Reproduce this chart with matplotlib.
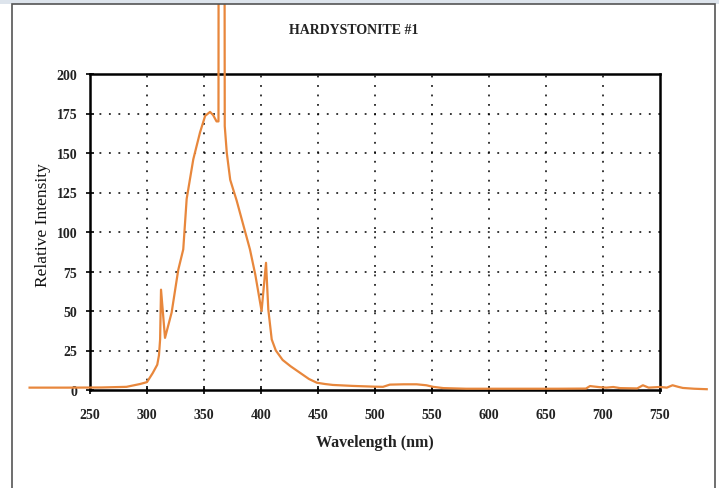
import matplotlib
matplotlib.use("Agg")
import matplotlib.pyplot as plt
from matplotlib.patches import Rectangle

# ---- data ----
wavelength = [197, 230, 260, 282, 294, 300, 305, 309, 310.5, 311.5, 312.3, 315.8,
              321.6, 327.4, 331.8, 334.8, 340.6, 346.5, 351, 355.3, 358, 361, 362.7,
              363.2, 367.4, 368.2, 370, 373, 378.6, 390.3, 395, 400.5, 404.4, 406.4,
              409.4, 413, 419, 426, 434, 442, 449, 456, 463, 480, 500, 507, 513, 525,
              536.5, 545, 551, 560, 580, 620, 660, 685, 688.6, 692, 697, 703, 709, 715,
              730, 735, 740, 750, 756, 761, 766, 770, 780, 791]
intensity = [1.5, 1.5, 1.6, 2, 3.8, 5, 10.7, 16, 22, 32, 63.5, 33,
             49, 76, 89, 121, 146, 163, 173.5, 176, 174, 170, 170,
             700, 700, 167, 150, 133, 120, 89, 73, 50, 80.5, 51,
             32, 25, 19, 15, 11, 7, 4.6, 3.8, 3.2, 2.6, 2.1, 2, 3.4, 3.6,
             3.6, 3, 2, 1.2, 0.8, 0.8, 0.8, 0.9, 2.5, 2.2, 1.8, 1.5, 1.9, 1.2,
             1.0, 3, 1.5, 1.9, 1.5, 3, 2, 1.3, 0.8, 0.5]
xticks = [250, 300, 350, 400, 450, 500, 550, 600, 650, 700, 750]
yticks = [0, 25, 50, 75, 100, 125, 150, 175, 200]

title = "HARDYSTONITE #1"
xlabel = "Wavelength (nm)"
ylabel = "Relative Intensity"

W, H = 719, 489
fig = plt.figure(figsize=(W / 100, H / 100), dpi=100)
fig.patch.set_facecolor("white")

# frame decorations
fig.patches.append(Rectangle((0, (H - 5) / H), 1, 5 / H, transform=fig.transFigure,
                             facecolor="#dde4ec", edgecolor="none", zorder=0))
fig.patches.append(Rectangle((12 / W, -0.01), (715 - 12) / W, (H - 5) / H + 0.01,
                             transform=fig.transFigure, facecolor="none",
                             edgecolor="#555555", linewidth=1.2, zorder=1))

ax = fig.add_axes([90 / W, (H - 391) / H, (660 - 90) / W, (391 - 75) / H])
ax.set_xlim(250, 750)
ax.set_ylim(0, 200)

# dotted grid
for x in xticks[1:-1]:
    ax.axvline(x, color="black", linestyle=(0, (1.2, 5)), linewidth=1.1, zorder=1)
for y in yticks[1:-1]:
    ax.axhline(y, color="black", linestyle=(0, (1.2, 5)), linewidth=1.1, zorder=1)

ax.plot(wavelength, intensity, color="#e8873c", linewidth=1.6, clip_on=False, zorder=3)

for s in ax.spines.values():
    s.set_linewidth(1.8)
    s.set_color("black")

serif = ["Liberation Serif", "DejaVu Serif"]
ax.set_xticks(xticks)
ax.set_yticks(yticks)
ax.set_xticklabels([str(v) for v in xticks], fontfamily=serif, fontweight="bold",
                   fontsize=10, color="#222222")
ax.set_yticklabels([str(v) for v in yticks], fontfamily=serif, fontweight="bold",
                   fontsize=10, color="#222222")
ax.tick_params(axis="both", direction="inout", length=6, width=1.2)
ax.tick_params(axis="x", pad=10)
ax.tick_params(axis="y", pad=6)

fig.text(354 / W, 1 - 30 / H, title, ha="center", va="center",
         fontfamily=serif, fontweight="bold", fontsize=10, color="#222222")
fig.text(375 / W, 1 - 443 / H, xlabel, ha="center", va="center",
         fontfamily=serif, fontweight="bold", fontsize=11.5, color="#222222")
fig.text(43 / W, 1 - 225 / H, ylabel, ha="center", va="center", rotation=90,
         fontfamily=serif, fontsize=12.5, color="#111111")

fig.savefig("out.png", dpi=100)
